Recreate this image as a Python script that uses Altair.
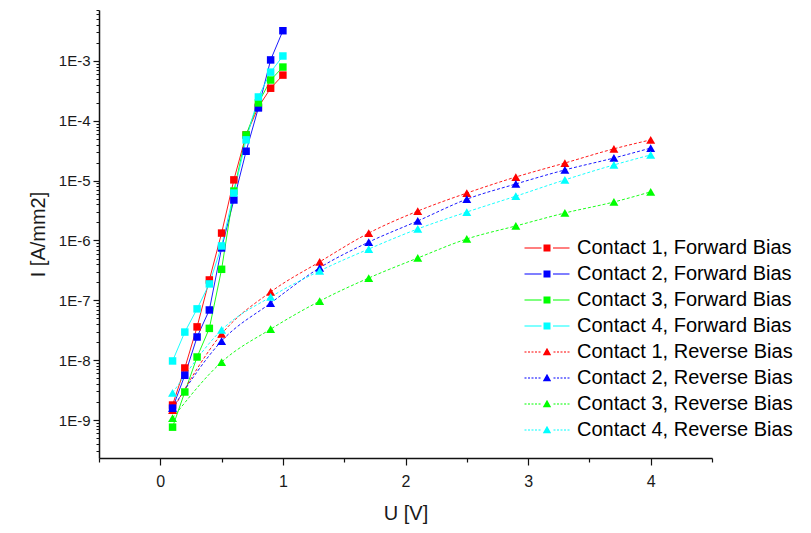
import altair as alt
import pandas as pd

# ---- data ----
series_names = [
    "Contact 1, Forward Bias", "Contact 2, Forward Bias",
    "Contact 3, Forward Bias", "Contact 4, Forward Bias",
    "Contact 1, Reverse Bias", "Contact 2, Reverse Bias",
    "Contact 3, Reverse Bias", "Contact 4, Reverse Bias",
]
series_colours = ["#ff0000", "#0000ff", "#00ff00", "#00ffff",
                  "#ff0000", "#0000ff", "#00ff00", "#00ffff"]

u_forward = [0.1, 0.2, 0.3, 0.4, 0.5, 0.6, 0.7, 0.8, 0.9, 1.0]
i_c1_forward = [1.78e-9, 7.4e-9, 3.6e-8, 2.19e-7, 1.33e-6, 1.03e-5, 5.8e-5, 1.70e-4, 3.5e-4, 5.8e-4]
i_c2_forward = [1.58e-9, 5.6e-9, 2.44e-8, 6.9e-8, 7.5e-7, 4.75e-6, 3.1e-5, 1.64e-4, 1.04e-3, 3.2e-3]
i_c3_forward = [7.6e-10, 2.94e-9, 1.13e-8, 3.4e-8, 3.3e-7, 6.7e-6, 5.8e-5, 1.99e-4, 4.8e-4, 7.9e-4]
i_c4_forward = [9.7e-9, 2.95e-8, 7.2e-8, 1.88e-7, 8.1e-7, 6.2e-6, 4.8e-5, 2.50e-4, 6.5e-4, 1.21e-3]

u_reverse = [0.1, 0.5, 0.9, 1.3, 1.7, 2.1, 2.5, 2.9, 3.3, 3.7, 4.0]
i_c1_reverse = [1.47e-9, 2.74e-8, 1.38e-7, 4.4e-7, 1.33e-6, 3.1e-6, 6.2e-6, 1.15e-5, 1.97e-5, 3.4e-5, 4.8e-5]
i_c2_reverse = [1.58e-9, 2.09e-8, 9.0e-8, 3.5e-7, 9.4e-7, 2.12e-6, 4.9e-6, 8.8e-6, 1.51e-5, 2.39e-5, 3.5e-5]
i_c3_reverse = [1.08e-9, 9.3e-9, 3.3e-8, 9.7e-8, 2.36e-7, 5.1e-7, 1.06e-6, 1.75e-6, 2.88e-6, 4.4e-6, 6.5e-6]
i_c4_reverse = [2.83e-9, 3.2e-8, 1.14e-7, 3.1e-7, 7.2e-7, 1.56e-6, 2.99e-6, 5.5e-6, 1.03e-5, 1.83e-5, 2.69e-5]

x_major = [0, 1, 2, 3, 4]
x_minor = [-0.5, 0.5, 1.5, 2.5, 3.5, 4.5]
y_major = [1e-9, 1e-8, 1e-7, 1e-6, 1e-5, 1e-4, 1e-3]
y_lo, y_hi = 2.32e-10, 7.1e-3
y_minor = [m * 10.0 ** k for k in range(-11, -2) for m in range(2, 10)
           if y_lo <= m * 10.0 ** k <= y_hi]

# ---- table ----
rows = []
forward_sets = [i_c1_forward, i_c2_forward, i_c3_forward, i_c4_forward]
reverse_sets = [i_c1_reverse, i_c2_reverse, i_c3_reverse, i_c4_reverse]
for k, vals in enumerate(forward_sets):
    for u, i in zip(u_forward, vals):
        rows.append({"series": series_names[k], "u": u, "i": i,
                     "colour": series_colours[k], "bias": "Forward"})
for k, vals in enumerate(reverse_sets):
    for u, i in zip(u_reverse, vals):
        rows.append({"series": series_names[4 + k], "u": u, "i": i,
                     "colour": series_colours[4 + k], "bias": "Reverse"})
df = pd.DataFrame(rows)

# legend symbols: line - marker - line  (1 unit = 10 px with symbolSize 400)
fwd_path = ("M-2.25,-0.05H-0.55V0.05H-2.25Z "
            "M-0.35,-0.35H0.35V0.35H-0.35Z "
            "M0.6,-0.05H2.25V0.05H0.6Z")
dash_left = " ".join(
    f"M{a},-0.05H{a + 0.2:.2f}V0.05H{a}Z" for a in [-2.25, -1.9, -1.55, -1.2, -0.85])
dash_right = " ".join(
    f"M{a},-0.05H{a + 0.2:.2f}V0.05H{a}Z" for a in [0.65, 1.0, 1.35, 1.7, 2.05])
rev_path = dash_left + " M-0.42,0.33L0,-0.42L0.42,0.33Z " + dash_right
legend_paths = [fwd_path] * 4 + [rev_path] * 4

FONT = "Liberation Sans"
xscale = alt.Scale(domain=[-0.5, 4.5], nice=False, zero=False)
yscale = alt.Scale(type="log", domain=[y_lo, y_hi], nice=False)

x_axis_main = alt.Axis(values=x_major, format="d", orient="bottom", tickSize=7,
                       tickWidth=1.2, tickColor="#111111", domainColor="#111111",
                       domainWidth=1.5, labelFont=FONT, labelFontSize=16,
                       labelColor="#1a1a1a", labelPadding=8, title="U [V]",
                       titleFont=FONT, titleFontSize=20, titleFontWeight="normal",
                       titleColor="#1a1a1a", titlePadding=14)
y_axis_main = alt.Axis(values=y_major, orient="left",
                       labelExpr="'1E' + round(log(datum.value) / LN10)",
                       tickSize=6, tickWidth=1.2, tickColor="#111111",
                       domainColor="#111111", domainWidth=1.5, labelFont=FONT,
                       labelFontSize=15, labelColor="#1a1a1a", labelPadding=3,
                       title="I [A/mm2]", titleFont=FONT, titleFontSize=20,
                       titleFontWeight="normal", titleColor="#1a1a1a",
                       titlePadding=10)
x_axis_minor = alt.Axis(values=x_minor, orient="bottom", tickSize=4,
                        tickWidth=1.2, tickColor="#111111", labels=False,
                        domain=False, title="")
y_axis_minor = alt.Axis(values=y_minor, orient="left", tickSize=3,
                        tickWidth=1, tickColor="#111111", labels=False,
                        domain=False, title="")

base = alt.Chart(df)

fwd_lines = base.transform_filter("datum.bias == 'Forward'").mark_line(
    strokeWidth=0.9).encode(
    x=alt.X("u:Q", scale=xscale, axis=x_axis_main),
    y=alt.Y("i:Q", scale=yscale, axis=y_axis_main),
    color=alt.Color("colour:N", scale=None),
    detail="series:N",
    order="u:Q",
)
rev_lines = base.transform_filter("datum.bias == 'Reverse'").mark_line(
    strokeWidth=0.9, strokeDash=[3, 2], interpolate="monotone").encode(
    x=alt.X("u:Q", scale=xscale, axis=None),
    y=alt.Y("i:Q", scale=yscale, axis=None),
    color=alt.Color("colour:N", scale=None),
    detail="series:N",
    order="u:Q",
)
fwd_pts = base.transform_filter("datum.bias == 'Forward'").mark_point(
    filled=True, opacity=1, size=56, shape="square", strokeWidth=0).encode(
    x=alt.X("u:Q", scale=xscale, axis=None),
    y=alt.Y("i:Q", scale=yscale, axis=None),
    color=alt.Color("colour:N", scale=None),
)
rev_pts = base.transform_filter("datum.bias == 'Reverse'").mark_point(
    filled=True, opacity=1, size=80, shape="triangle-up", strokeWidth=0).encode(
    x=alt.X("u:Q", scale=xscale, axis=None),
    y=alt.Y("i:Q", scale=yscale, axis=None),
    color=alt.Color("colour:N", scale=None),
)

leg = alt.Legend(orient="none", legendX=438, legendY=228, title=None,
                 labelFont=FONT, labelFontSize=20, labelColor="black",
                 labelLimit=500, symbolSize=400, symbolStrokeWidth=0,
                 labelOffset=20, rowPadding=6, padding=0, symbolOpacity=1)
legend_layer = base.transform_filter("false").mark_point(
    filled=True, opacity=1).encode(
    x=alt.X("u:Q", scale=xscale, axis=x_axis_minor),
    y=alt.Y("i:Q", scale=yscale, axis=y_axis_minor),
    color=alt.Color("series:N", scale=alt.Scale(domain=series_names,
                                                range=series_colours),
                    legend=leg, sort=series_names),
    shape=alt.Shape("series:N", scale=alt.Scale(domain=series_names,
                                                range=legend_paths),
                    legend=leg, sort=series_names),
)

chart = alt.layer(fwd_lines, rev_lines, fwd_pts, rev_pts, legend_layer).resolve_axis(
    x="independent", y="independent"
).properties(
    width=613, height=448,
    padding={"left": 91, "top": 2, "right": 91, "bottom": 67},
    autosize=alt.AutoSizeParams(type="none"),
    background="white",
).configure_view(stroke=None).configure_axis(grid=False)

chart.save("out.html", embed_options={"renderer": "svg", "actions": False})
